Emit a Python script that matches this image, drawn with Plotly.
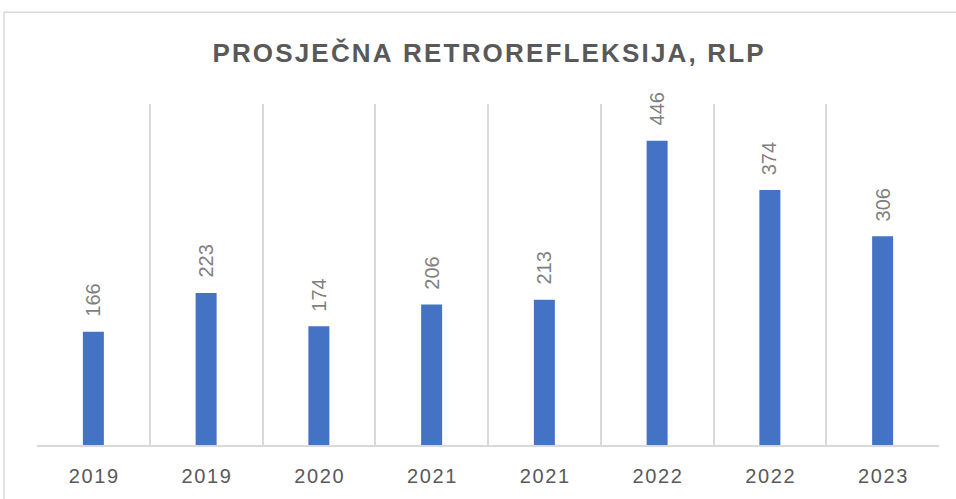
import plotly.graph_objects as go

categories = ["2019", "2019", "2020", "2021", "2021", "2022", "2022", "2023"]
values = [166, 223, 174, 206, 213, 446, 374, 306]
title_text = "PROSJEČNA RETROREFLEKSIJA, RLP"

HAIR = "\u200a"
def spaced(s, sep=HAIR):
    return sep.join(list(s))

x = list(range(len(categories)))

fig = go.Figure()
fig.add_trace(go.Bar(
    x=x, y=values,
    marker=dict(color="#4472C4", line=dict(width=0)),
    width=0.186,
    hoverinfo="skip",
))

for xi, v in zip(x, values):
    fig.add_annotation(
        x=xi, y=v, text=str(v), textangle=-90,
        showarrow=False, xanchor="center", yanchor="bottom", yshift=13,
        font=dict(family="Liberation Sans, Arial, sans-serif", size=20, color="#7f7f7f"),
    )

fig.update_layout(
    width=956, height=499,
    margin=dict(l=37, r=17, t=104, b=51),
    paper_bgcolor="white", plot_bgcolor="white",
    showlegend=False,
    title=dict(
        text="<b>" + spaced(title_text) + "</b>",
        x=0.5, xref="paper", xanchor="center",
        y=1 - 53 / 499, yref="container", yanchor="middle",
        font=dict(family="Liberation Sans, Arial, sans-serif", size=26, color="#595959"),
    ),
    xaxis=dict(
        range=[-0.5, len(categories) - 0.5],
        tickmode="array", tickvals=x, ticktext=[spaced(c) for c in categories],
        showgrid=False, zeroline=False,
        showline=True, linecolor="#d9d9d9", linewidth=1.5,
        ticks="", ticklen=0, ticklabelstandoff=12,
        tickfont=dict(family="Liberation Sans, Arial, sans-serif", size=20, color="#595959"),
        minor=dict(tick0=-0.5, dtick=1, showgrid=True, gridcolor="#d9d9d9", gridwidth=1.5, ticks=""),
        fixedrange=True,
    ),
    yaxis=dict(
        range=[0, 500], visible=False, showgrid=False, zeroline=False, fixedrange=True,
    ),
)

fig.add_shape(
    type="rect", xref="paper", yref="paper",
    x0=(4 - 37) / 902, x1=(990 - 37) / 902,
    y0=(448 - 540) / 344, y1=(448 - 11.5) / 344,
    line=dict(color="#d9d9d9", width=1.5), fillcolor="rgba(0,0,0,0)", layer="below",
)

fig.write_html(
    "out.html",
    config={"displayModeBar": False},
    post_script="document.body.style.margin='0';document.body.style.overflow='hidden';",
)
